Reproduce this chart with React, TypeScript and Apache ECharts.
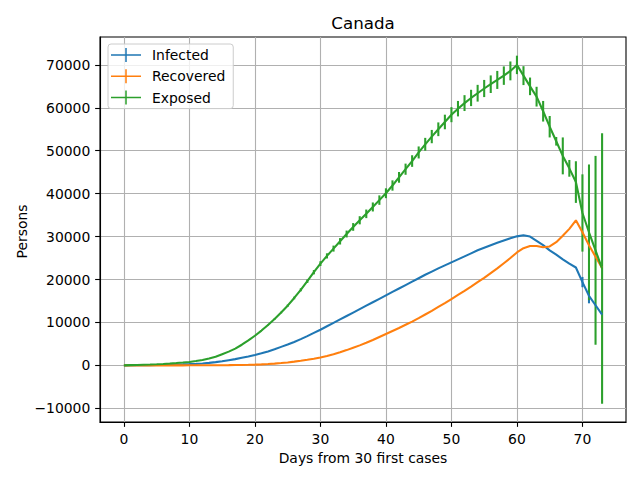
import React, { useEffect, useRef } from "react";
import * as echarts from "echarts";

// Days 0..73
const infected = [
  0, 10, 20, 40, 60, 80, 100, 130, 170, 220,
  280, 350, 450, 580, 750, 950, 1200, 1450, 1750, 2050,
  2400, 2800, 3250, 3750, 4300, 4850, 5450, 6100, 6800, 7550,
  8300, 9100, 9900, 10700, 11500, 12300, 13100, 13900, 14700, 15500,
  16300, 17100, 17900, 18700, 19500, 20300, 21100, 21850, 22600, 23300,
  24000, 24700, 25400, 26100, 26800, 27400, 28000, 28550, 29100, 29600,
  30050, 30300, 30000, 29000, 28000, 26800, 25800, 24700, 23700, 22800,
  19400, 16200, 14000, 11800,
];
const infectedErr = [
  0, 0, 0, 0, 0, 0, 0, 0, 0, 0,
  0, 0, 0, 0, 0, 0, 0, 0, 0, 0,
  0, 0, 0, 0, 0, 0, 0, 0, 0, 0,
  0, 0, 0, 0, 0, 0, 0, 0, 0, 0,
  0, 0, 0, 0, 0, 0, 0, 0, 0, 0,
  0, 0, 0, 0, 0, 0, 0, 0, 0, 0,
  0, 0, 0, 0, 0, 0, 0, 0, 0, 0,
  1200, 1750, 0, 0,
];
const recovered = [
  0, 0, 0, 0, 0, 0, 0, 0, 0, 0,
  10, 10, 20, 20, 30, 40, 50, 70, 90, 120,
  160, 220, 300, 400, 530, 680, 860, 1060, 1290, 1550,
  1850, 2200, 2600, 3050, 3550, 4100, 4650, 5250, 5900, 6600,
  7300, 8000, 8700, 9450, 10200, 11000, 11850, 12700, 13600, 14500,
  15450, 16400, 17350, 18350, 19400, 20400, 21500, 22600, 23800, 25000,
  26300, 27300, 27800, 27800, 27500, 27700, 28700, 30200, 31800, 33800,
  31000, 28000, 25300, 22700,
];
const exposed = [
  0, 50, 100, 150, 200, 260, 330, 420, 530, 650,
  800, 1000, 1250, 1600, 2000, 2600, 3200, 3900, 4800, 5800,
  6900, 8100, 9400, 10800, 12300, 13900, 15700, 17600, 19600, 21700,
  23700, 25500, 27200, 28900, 30600, 32250, 33800, 35300, 36900, 38500,
  40100, 41900, 43800, 45700, 47600, 49600, 51500, 53300, 55000, 56700,
  58400, 59800, 61100, 62300, 63400, 64500, 65500, 66500, 67500, 68600,
  70000, 67500, 65000, 62600, 59200, 55600, 52200, 48800, 45900, 42700,
  35500, 31000, 26800, 22550,
];
const exposedErr = [
  0, 0, 0, 0, 0, 0, 0, 0, 0, 0,
  0, 0, 0, 0, 0, 0, 0, 0, 0, 0,
  50, 80, 120, 160, 200, 250, 300, 350, 400, 500,
  550, 600, 700, 750, 800, 900, 950, 1000, 1050, 1100,
  1150, 1200, 1250, 1300, 1350, 1400, 1500, 1550, 1600, 1700,
  1750, 1800, 1850, 1900, 1950, 2000, 2050, 2100, 2150, 2200,
  2150, 2200, 2050, 2300, 2400, 2500, 1000, 4300, 1950, 4850,
  9000, 15800, 22000, 31500,
];
const xTicks = [0, 10, 20, 30, 40, 50, 60, 70];
const yTicks = [-10000, 0, 10000, 20000, 30000, 40000, 50000, 60000, 70000];
const seriesNames = ["Infected", "Recovered", "Exposed"];

const C_INF = "#1f77b4";
const C_REC = "#ff7f0e";
const C_EXP = "#2ca02c";
const FONT = "DejaVu Sans";
const LEGEND_ICON = "path://M0,6.25H30V7.75H0Z M14.25,0H15.75V14H14.25Z";

function errSeries(name: string, vals: number[], errs: number[], color: string) {
  return {
    type: "custom",
    name,
    data: vals.map((v, i) => [i, v, errs[i]]),
    encode: { x: 0, y: 1 },
    clip: true,
    renderItem: (params: any, api: any) => {
      const e = api.value(2);
      if (!e) return null;
      const x = api.value(0);
      const y = api.value(1);
      const p1 = api.coord([x, y - e]);
      const p2 = api.coord([x, y + e]);
      return {
        type: "line",
        shape: { x1: p1[0], y1: p1[1], x2: p2[0], y2: p2[1] },
        style: { stroke: color, lineWidth: 2.08 },
      };
    },
  };
}

function lineSeries(name: string, vals: number[], color: string) {
  return {
    type: "line",
    name,
    data: vals.map((v, i) => [i, v]),
    showSymbol: false,
    symbol: "none",
    lineStyle: { color, width: 2.08 },
    itemStyle: { color },
  };
}

const fmt = (v: number) => (v < 0 ? "\u2212" + Math.abs(v) : String(v));

export default function App() {
  const ref = useRef<HTMLDivElement>(null);
  useEffect(() => {
    if (!ref.current) return;
    const chart = echarts.init(ref.current, undefined, { renderer: "svg" });
    chart.setOption({
      animation: false,
      backgroundColor: "#ffffff",
      textStyle: { fontFamily: FONT },
      grid: {
        left: 100,
        right: 14,
        top: 37,
        bottom: 58,
        show: true,
        borderColor: "#000",
        borderWidth: 1.1,
        backgroundColor: "transparent",
      },
      graphic: [
        {
          type: "text",
          x: 363,
          y: 23,
          style: {
            text: "Canada",
            fill: "#000",
            font: `16.7px "${FONT}"`,
            align: "center",
            verticalAlign: "middle",
          },
        },
        {
          type: "text",
          x: 21.7,
          y: 231.5,
          rotation: Math.PI / 2,
          style: {
            text: "Persons",
            fill: "#000",
            font: `13.9px "${FONT}"`,
            align: "center",
            verticalAlign: "middle",
          },
        },
      ],
      legend: {
        orient: "vertical",
        left: 108,
        top: 44,
        itemWidth: 30,
        itemHeight: 14,
        itemGap: 7.3,
        padding: [4, 8, 4, 3],
        backgroundColor: "rgba(255,255,255,0.8)",
        borderColor: "#cccccc",
        borderWidth: 1,
        borderRadius: 3,
        symbolKeepAspect: false,
        textStyle: { fontFamily: FONT, fontSize: 13.9, color: "#000", padding: [0, 0, 0, 6] },
        data: seriesNames.map((n) => ({ name: n, icon: LEGEND_ICON })),
      },
      xAxis: {
        type: "value",
        min: -3.65,
        max: 76.65,
        name: "Days from 30 first cases",
        nameLocation: "middle",
        nameGap: 28,
        nameTextStyle: { fontFamily: FONT, fontSize: 13.9, color: "#000" },
        axisLine: { show: true, onZero: false, lineStyle: { color: "#000", width: 1.1 } },
        axisTick: {
          show: true,
          length: 4.86,
          customValues: xTicks,
          lineStyle: { color: "#000", width: 1.1 },
        },
        axisLabel: {
          customValues: xTicks,
          margin: 9.7,
          fontFamily: FONT,
          fontSize: 13.9,
          color: "#000",
          formatter: (v: number) => fmt(v),
        },
        splitLine: { show: true, lineStyle: { color: "#b0b0b0", width: 1.1 } },
      },
      yAxis: {
        type: "value",
        min: -13200,
        max: 76500,
        axisLine: { show: true, onZero: false, lineStyle: { color: "#000", width: 1.1 } },
        axisTick: {
          show: true,
          length: 4.86,
          customValues: yTicks,
          lineStyle: { color: "#000", width: 1.1 },
        },
        axisLabel: {
          customValues: yTicks,
          margin: 9.7,
          fontFamily: FONT,
          fontSize: 13.9,
          color: "#000",
          formatter: (v: number) => fmt(v),
        },
        splitLine: { show: true, lineStyle: { color: "#b0b0b0", width: 1.1 } },
      },
      series: [
        lineSeries(seriesNames[0], infected, C_INF),
        errSeries("Infected err", infected, infectedErr, C_INF),
        lineSeries(seriesNames[1], recovered, C_REC),
        lineSeries(seriesNames[2], exposed, C_EXP),
        errSeries("Exposed err", exposed, exposedErr, C_EXP),
      ],
    });
    return () => chart.dispose();
  }, []);
  return (
    <div
      ref={ref}
      style={{ position: "absolute", left: 0, top: 0, width: 640, height: 480 }}
    />
  );
}
